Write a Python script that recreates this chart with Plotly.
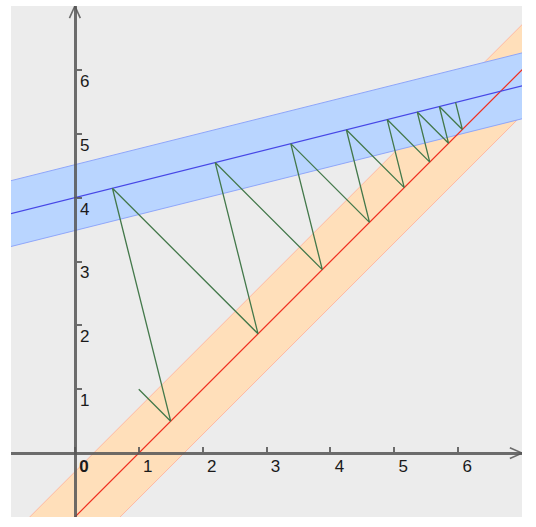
import plotly.graph_objects as go

# ---- data ----
x_range = [-1, 7]
y_range = [-1, 7]
x_tick_vals = [0, 1, 2, 3, 4, 5, 6]
x_tick_text = ["<b>0</b>", "1", "2", "3", "4", "5", "6"]
y_tick_vals = [1, 2, 3, 4, 5, 6]
y_tick_text = ["1", "2", "3", "4", "5", "6"]

line_x = [-2, 8]
red_y = [-3, 7]                 # y = x - 1
red_band_upper = [-2.2929, 7.7071]
red_band_lower = [-3.7071, 6.2929]
blue_y = [3.5, 6.0]             # y = 4 + 0.25x
blue_band_upper = [4.0154, 6.5154]
blue_band_lower = [2.9846, 5.4846]

path_x = [1.0, 1.5, 0.5882, 2.8676, 2.1972, 3.8733, 3.3803, 4.6127, 4.2502,
          5.1564, 4.8899, 5.5562, 5.3602, 5.8501, 5.7060, 6.0663, 5.9603]
path_y = [1.0, 0.5, 4.1471, 1.8676, 4.5493, 2.8733, 4.8451, 3.6127, 5.0626,
          4.1564, 5.2225, 4.5562, 5.3401, 4.8501, 5.4265, 5.0663, 5.4901]

# ---- styles ----
BG = "#ececec"
AXIS = "rgba(85,85,85,0.85)"
ORANGE_FILL = "#ffdfba"
ORANGE_EDGE = "#ffb8a2"
BLUE_FILL = "#b9d5ff"
BLUE_EDGE = "#8ea6fa"
RED = "#f03020"
BLUE = "#4646e6"
GREEN = "#43784a"
FONT = "Liberation Sans, Arial, sans-serif"

fig = go.Figure()

def band(lower, upper, fill, edge):
    xs = line_x + line_x[::-1] + [line_x[0]]
    ys = upper + lower[::-1] + [upper[0]]
    fig.add_trace(go.Scatter(x=xs, y=ys, mode="lines", fill="toself",
                             fillcolor=fill, line=dict(color=fill, width=0),
                             hoverinfo="skip"))
    fig.add_trace(go.Scatter(x=line_x, y=upper, mode="lines",
                             line=dict(color=edge, width=1), hoverinfo="skip"))
    fig.add_trace(go.Scatter(x=line_x, y=lower, mode="lines",
                             line=dict(color=edge, width=1), hoverinfo="skip"))

band(red_band_lower, red_band_upper, ORANGE_FILL, ORANGE_EDGE)
band(blue_band_lower, blue_band_upper, BLUE_FILL, BLUE_EDGE)

fig.add_trace(go.Scatter(x=line_x, y=red_y, mode="lines",
                         line=dict(color=RED, width=1.2), hoverinfo="skip"))
fig.add_trace(go.Scatter(x=line_x, y=blue_y, mode="lines",
                         line=dict(color=BLUE, width=1.2), hoverinfo="skip"))
fig.add_trace(go.Scatter(x=path_x, y=path_y, mode="lines",
                         line=dict(color=GREEN, width=1.3), hoverinfo="skip"))

# arrow heads (open chevrons) at the ends of the axes
ax_len = 0.19
ax_half = 0.085
xe, ye = x_range[1], y_range[1]
fig.add_shape(type="path", xref="x", yref="y",
              path=f"M {xe-ax_len},{ax_half} L {xe},0 L {xe-ax_len},{-ax_half}",
              line=dict(color=AXIS, width=1.6))
fig.add_shape(type="path", xref="x", yref="y",
              path=f"M {-ax_half},{ye-ax_len} L 0,{ye} L {ax_half},{ye-ax_len}",
              line=dict(color=AXIS, width=1.6))

pos_x0 = (0 - x_range[0]) / (x_range[1] - x_range[0])
pos_y0 = (0 - y_range[0]) / (y_range[1] - y_range[0])

fig.update_layout(
    width=536, height=527,
    margin=dict(l=11, r=14, t=6, b=10, autoexpand=False),
    paper_bgcolor="white",
    plot_bgcolor=BG,
    showlegend=False,
    font=dict(family=FONT, size=17, color="#1a1a1a"),
    xaxis=dict(range=x_range, showgrid=False, zeroline=False,
               showline=True, linecolor=AXIS, linewidth=2.5,
               anchor="free", position=pos_y0, side="bottom",
               ticks="inside", ticklen=5, tickwidth=2, tickcolor=AXIS,
               tickvals=x_tick_vals, ticktext=x_tick_text,
               ticklabelshift=9, ticklabelstandoff=-3, fixedrange=True,
               automargin=False),
    yaxis=dict(range=y_range, showgrid=False, zeroline=False,
               showline=True, linecolor=AXIS, linewidth=2.5,
               anchor="free", position=pos_x0, side="right",
               ticks="outside", ticklen=5, tickwidth=2, tickcolor=AXIS,
               tickvals=y_tick_vals, ticktext=y_tick_text,
               ticklabelshift=11, ticklabelstandoff=-5, fixedrange=True,
               automargin=False),
)

fig.write_html("out.html", config={"displayModeBar": False},
               post_script="document.body.style.margin='0';")
